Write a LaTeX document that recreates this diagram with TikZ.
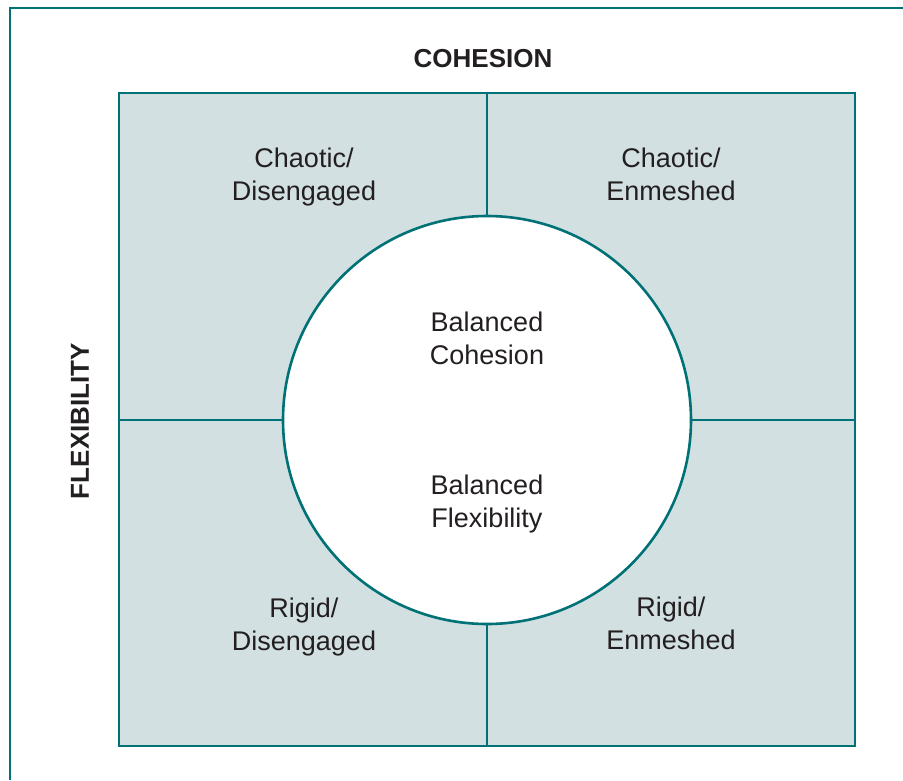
\documentclass[tikz,border=0pt]{standalone}
\usepackage{fontspec}
\setmainfont{Liberation Sans}
\definecolor{teal0}{HTML}{007176}
\definecolor{fillq}{HTML}{D3E0E1}
\definecolor{txt}{HTML}{231F20}
\tikzset{
  lbl/.style={align=center, text=txt, font=\fontsize{27}{33}\selectfont, inner sep=0pt},
  axis/.style={text=txt, font=\fontsize{26}{30}\selectfont\bfseries, inner sep=0pt},
  edge/.style={draw=teal0, line width=2.6pt},
  frame/.style={draw=teal0, line width=1.4pt}
}
\begin{document}
\begin{tikzpicture}[x=1pt,y=-1pt]
\useasboundingbox (0,0) rectangle (903,780);
% outer frame (partial)
\draw[frame] (10,780) -- (10,8) -- (903,8);
% grid
\coordinate (tl) at (119,93);
\coordinate (br) at (855,746);
\coordinate (c) at (487,420);
\fill[fillq] (tl) rectangle (br);
\draw[edge] (487,93) -- (487,746);
\draw[edge] (119,420) -- (855,420);
\draw[edge] (tl) rectangle (br);
\draw[edge, fill=white] (c) circle[radius=204];
% labels
\node[axis] (coh) at (483,59) {COHESION};
\node[axis, rotate=90] (flex) at (80,421) {FLEXIBILITY};
\node[lbl] (cd) at (304,177) {Chaotic/\\Disengaged};
\node[lbl] (ce) at (671,174.5) {Chaotic/\\Enmeshed};
\node[lbl] (bc) at (487,338) {Balanced\\Cohesion};
\node[lbl] (bf) at (487,504) {Balanced\\Flexibility};
\node[lbl] (rd) at (304,627) {Rigid/\\Disengaged};
\node[lbl] (re) at (671,623.5) {Rigid/\\Enmeshed};
\end{tikzpicture}
\end{document}
